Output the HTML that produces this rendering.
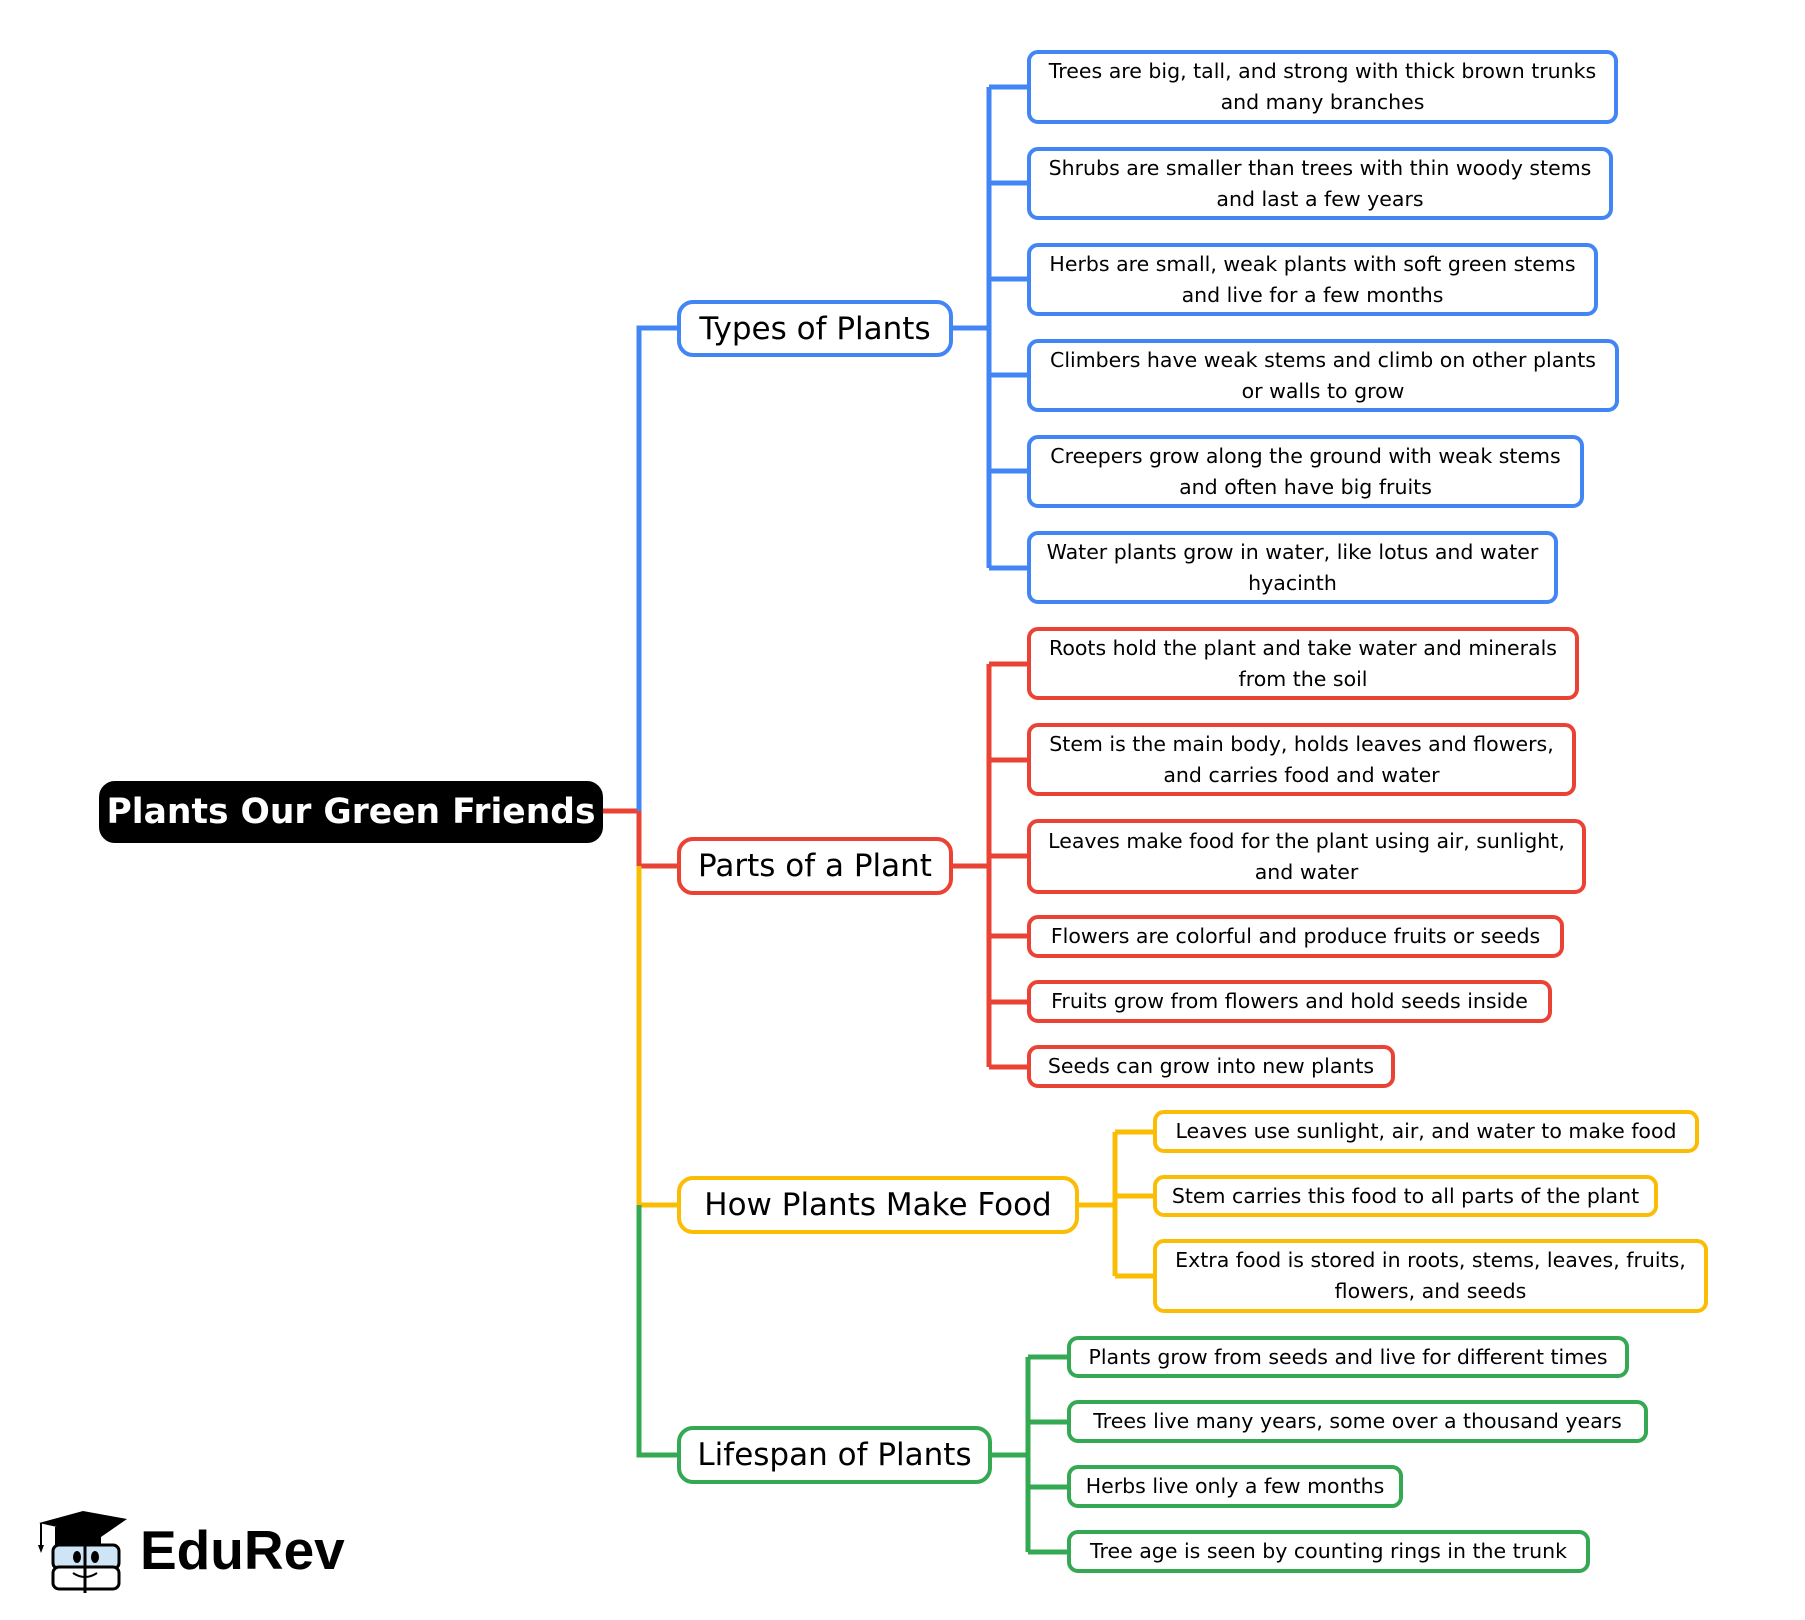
<!DOCTYPE html>
<html><head><meta charset="utf-8"><style>
body{margin:0;width:1805px;height:1620px;background:#fff;position:relative;overflow:hidden;font-family:"DejaVu Sans","Liberation Sans",sans-serif;}
#w{position:absolute;left:0;top:0;width:1805px;height:1620px;transform:translate(-3px,-2px);}
.b{position:absolute;box-sizing:border-box;border:4px solid;border-radius:11px;background:#fff;display:flex;align-items:center;justify-content:center;text-align:center;color:#000;}
.l{font-size:20.5px;line-height:31px;padding:0 6px;}
.m{font-size:31px;border-radius:16px;white-space:nowrap;}
.bl{border-color:#4285f4}.rd{border-color:#ea4335}.yl{border-color:#fbbc04}.gr{border-color:#34a853}
</style></head><body><div id="w">
<svg width="1805" height="1620" style="position:absolute;left:0;top:0" fill="none" stroke-width="5">
<path d="M606 813H642" stroke="#ea4335"/>
<path d="M680 330H642V813" stroke="#4285f4"/>
<path d="M642 813V868H680" stroke="#ea4335"/>
<path d="M642 868V1207H680" stroke="#fbbc04"/>
<path d="M642 1207V1457H680" stroke="#34a853"/>
<path d="M956 330H992M992 89V570M992 89H1030M992 185H1030M992 281H1030M992 377H1030M992 473H1030M992 570H1030" stroke="#4285f4"/>
<path d="M956 868H992M992 666V1069M992 666H1030M992 762H1030M992 858H1030M992 938H1030M992 1004H1030M992 1069H1030" stroke="#ea4335"/>
<path d="M1082 1207H1118M1118 1134V1278M1118 1134H1156M1118 1198H1156M1118 1278H1156" stroke="#fbbc04"/>
<path d="M995 1457H1031M1031 1359V1554M1031 1359H1070M1031 1424H1070M1031 1489H1070M1031 1554H1070" stroke="#34a853"/>
</svg>
<div class="b" style="left:102px;top:783px;width:504px;height:62px;background:#000;border-color:#000;border-radius:16px;color:#fff;font-weight:bold;font-size:34.5px;white-space:nowrap;">Plants Our Green Friends</div>
<div class="b m bl" style="left:680px;top:302px;width:276px;height:57px">Types of Plants</div>
<div class="b m rd" style="left:680px;top:839px;width:276px;height:58px">Parts of a Plant</div>
<div class="b m yl" style="left:680px;top:1178px;width:402px;height:58px">How Plants Make Food</div>
<div class="b m gr" style="left:680px;top:1428px;width:315px;height:58px">Lifespan of Plants</div>

<div class="b l bl" style="left:1030px;top:52px;width:591px;height:74px">Trees are big, tall, and strong with thick brown trunks and many branches</div>
<div class="b l bl" style="left:1030px;top:149px;width:586px;height:73px">Shrubs are smaller than trees with thin woody stems and last a few years</div>
<div class="b l bl" style="left:1030px;top:245px;width:571px;height:73px">Herbs are small, weak plants with soft green stems and live for a few months</div>
<div class="b l bl" style="left:1030px;top:341px;width:592px;height:73px">Climbers have weak stems and climb on other plants<br>or walls to grow</div>
<div class="b l bl" style="left:1030px;top:437px;width:557px;height:73px">Creepers grow along the ground with weak stems and often have big fruits</div>
<div class="b l bl" style="left:1030px;top:533px;width:531px;height:73px">Water plants grow in water, like lotus and water hyacinth</div>

<div class="b l rd" style="left:1030px;top:629px;width:552px;height:73px">Roots hold the plant and take water and minerals from the soil</div>
<div class="b l rd" style="left:1030px;top:725px;width:549px;height:73px">Stem is the main body, holds leaves and flowers, and carries food and water</div>
<div class="b l rd" style="left:1030px;top:821px;width:559px;height:75px">Leaves make food for the plant using air, sunlight, and water</div>
<div class="b l rd" style="left:1030px;top:917px;width:537px;height:43px">Flowers are colorful and produce fruits or seeds</div>
<div class="b l rd" style="left:1030px;top:982px;width:525px;height:43px">Fruits grow from flowers and hold seeds inside</div>
<div class="b l rd" style="left:1030px;top:1047px;width:368px;height:43px">Seeds can grow into new plants</div>

<div class="b l yl" style="left:1156px;top:1112px;width:546px;height:43px">Leaves use sunlight, air, and water to make food</div>
<div class="b l yl" style="left:1156px;top:1177px;width:505px;height:42px">Stem carries this food to all parts of the plant</div>
<div class="b l yl" style="left:1156px;top:1241px;width:555px;height:74px">Extra food is stored in roots, stems, leaves, fruits, flowers, and seeds</div>

<div class="b l gr" style="left:1070px;top:1338px;width:562px;height:42px">Plants grow from seeds and live for different times</div>
<div class="b l gr" style="left:1070px;top:1402px;width:581px;height:43px">Trees live many years, some over a thousand years</div>
<div class="b l gr" style="left:1070px;top:1467px;width:336px;height:43px">Herbs live only a few months</div>
<div class="b l gr" style="left:1070px;top:1532px;width:523px;height:43px">Tree age is seen by counting rings in the trunk</div>

<svg style="position:absolute;left:38px;top:1507px" width="95" height="90" viewBox="0 0 95 90">
<path d="M4 18L48 6L92 14L66 32L40 26Z" fill="#000"/>
<path d="M6 18V40" stroke="#000" stroke-width="2"/><path d="M3 40L6 48L9 40Z" fill="#000"/>
<rect x="20" y="22" width="46" height="20" fill="#000"/>
<rect x="18" y="40" width="66" height="24" rx="6" fill="#cfe4f5" stroke="#000" stroke-width="3"/>
<rect x="18" y="62" width="66" height="22" rx="6" fill="#fff" stroke="#000" stroke-width="3"/>
<path d="M50 38V88" stroke="#000" stroke-width="3"/>
<ellipse cx="42" cy="52" rx="4" ry="6" fill="#000"/><ellipse cx="60" cy="52" rx="4" ry="6" fill="#000"/>
<path d="M38 68Q50 76 62 68" stroke="#000" stroke-width="2" fill="none"/>
</svg>
<div style="position:absolute;left:143px;top:1519px;font-family:'Liberation Sans',sans-serif;font-weight:bold;font-size:55px;line-height:66px;color:#000;">EduRev</div>
</div></body></html>
